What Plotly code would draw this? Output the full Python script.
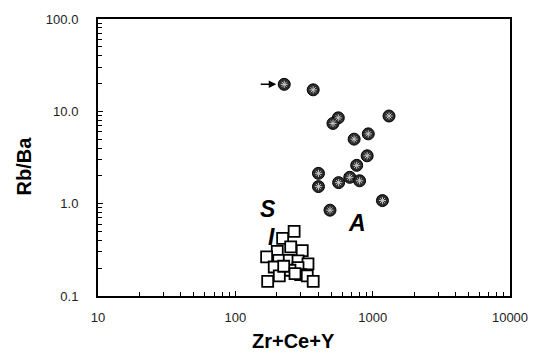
import math
import plotly.graph_objects as go

# A-type granites (filled circles)
a_x = [227, 369, 562, 514, 1315, 929, 733, 912, 765, 403, 403, 565, 681, 803, 1178, 489]
a_y = [19.6, 17.1, 8.5, 7.4, 8.9, 5.7, 5.0, 3.3, 2.6, 2.13, 1.53, 1.69, 1.93, 1.77, 1.08, 0.85]

# S- and I-type granites (open squares)
si_x = [268, 221, 253, 202, 307, 169, 207, 247, 286, 338, 192, 286, 250, 209, 299, 334, 172, 369, 225, 272]
si_y = [0.50, 0.42, 0.34, 0.305, 0.31, 0.265, 0.243, 0.243, 0.24, 0.223, 0.206, 0.203, 0.19, 0.165, 0.17, 0.165, 0.144, 0.144, 0.21, 0.175]

x_ticks = [10, 100, 1000, 10000]
x_ticktext = ["10", "100", "1000", "10000"]
y_ticks = [0.1, 1, 10, 100]
y_ticktext = ["0.1", "1.0", "10.0", "100.0"]

labels = ["S", "I", "A"]
label_x = [174, 182, 774]
label_y = [0.88, 0.44, 0.61]

arrow_x = [227]
arrow_y = [19.6]

x_minor = [m * d for d in (10, 100, 1000) for m in range(2, 10)]
y_minor = [m * d for d in (0.1, 1, 10) for m in range(2, 10)]

fig = go.Figure()
fig.add_trace(go.Scatter(
    x=si_x, y=si_y, mode="markers",
    marker=dict(symbol="square", size=11, color="white",
                line=dict(color="black", width=1.8)),
    showlegend=False, hoverinfo="skip"))
fig.add_trace(go.Scatter(
    x=a_x, y=a_y, mode="markers",
    marker=dict(symbol="circle", size=12, color="#2b2b2b",
                line=dict(color="black", width=1)),
    showlegend=False, hoverinfo="skip"))
fig.add_trace(go.Scatter(
    x=a_x, y=a_y, mode="markers",
    marker=dict(symbol="asterisk-open", size=6, color="#c8c8c8",
                line=dict(color="#c8c8c8", width=1)),
    showlegend=False, hoverinfo="skip"))

for t, lx, ly in zip(labels, label_x, label_y):
    fig.add_annotation(x=math.log10(lx), y=math.log10(ly), xref="x", yref="y",
                       text=f"<b><i>{t}</i></b>", showarrow=False,
                       font=dict(family="Liberation Sans, Arial", size=23, color="black"))

for ax_, ay_ in zip(arrow_x, arrow_y):
    fig.add_annotation(x=math.log10(ax_), y=math.log10(ay_), xref="x", yref="y", text="",
                       showarrow=True, arrowhead=2, arrowsize=1, arrowwidth=1.5,
                       arrowcolor="black", ax=-25, ay=0, standoff=8)

axis_common = dict(
    type="log", showgrid=False, zeroline=False,
    showline=True, linecolor="black", linewidth=2, mirror=True,
    ticks="inside", ticklen=5, tickcolor="black", tickwidth=1.2,
    tickfont=dict(family="Liberation Sans, Arial", size=13, color="#222"),
)

fig.update_xaxes(range=[1, 4], tickvals=x_ticks, ticktext=x_ticktext,
                 ticklabelstandoff=8,
                 minor=dict(tickvals=x_minor, ticks="inside", ticklen=4,
                            tickcolor="black", tickwidth=1, showgrid=False),
                 **axis_common)
fig.update_yaxes(range=[-1, 2], tickvals=y_ticks, ticktext=y_ticktext,
                 ticklabelstandoff=15,
                 minor=dict(tickvals=y_minor, ticks="inside", ticklen=4,
                            tickcolor="black", tickwidth=1, showgrid=False),
                 **axis_common)

fig.add_annotation(xref="paper", yref="paper", x=0, y=0.5, xshift=-75, yshift=-9,
                   xanchor="center", yanchor="middle",
                   text="<b>Rb/Ba</b>", textangle=-90, showarrow=False,
                   font=dict(family="Liberation Sans, Arial", size=20, color="black"))
fig.add_annotation(xref="paper", yref="paper", x=0.5, y=0, xshift=-11, yshift=-45,
                   xanchor="center", yanchor="middle",
                   text="<b>Zr+Ce+Y</b>", showarrow=False,
                   font=dict(family="Liberation Sans, Arial", size=20, color="black"))

fig.update_layout(
    width=540, height=355,
    margin=dict(l=98, r=25, t=14, b=59),
    paper_bgcolor="white", plot_bgcolor="white",
)

fig.write_html("out.html")
